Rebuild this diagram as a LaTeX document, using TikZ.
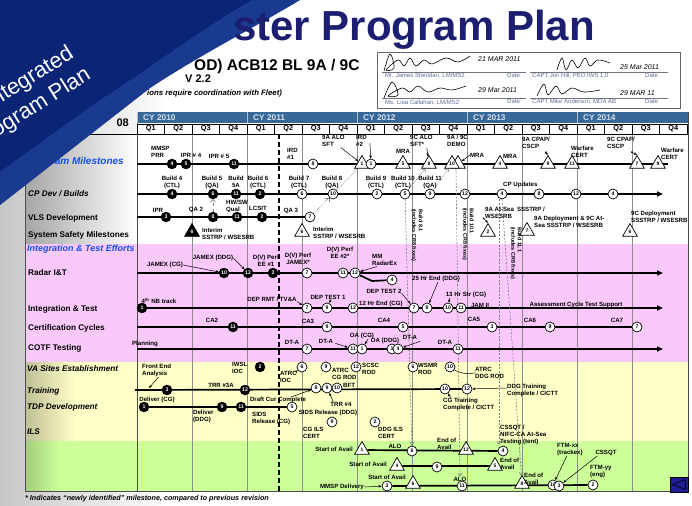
\documentclass[tikz,border=0pt]{standalone}
\usepackage{fontspec}
\setmainfont{Liberation Sans}
\usetikzlibrary{arrows.meta,shapes.geometric,calc}
\pgfdeclarelayer{back}
\pgfdeclarelayer{lines}
\pgfdeclarelayer{front}
\pgfsetlayers{back,lines,main,front}
\definecolor{navyT}{RGB}{28,30,112}
\definecolor{swblue}{RGB}{10,36,118}
\definecolor{swlight}{RGB}{45,85,175}
\definecolor{cyblue}{RGB}{56,104,152}
\definecolor{cytext}{RGB}{215,225,240}
\definecolor{pinkb}{RGB}{250,200,250}
\definecolor{yellb}{RGB}{255,255,200}
\definecolor{greenb}{RGB}{204,255,153}
\definecolor{gridg}{RGB}{140,140,140}
\definecolor{hdblue}{RGB}{20,80,235}
\definecolor{sigtext}{RGB}{90,110,150}
\definecolor{dashg}{RGB}{125,125,125}
\definecolor{btnblue}{RGB}{30,30,150}
\begin{document}
\begin{tikzpicture}[x=1pt,y=-1pt,
  mb/.style={circle,fill=black,draw=black,text=white,minimum size=10pt,inner sep=0pt,font=\fontsize{5.2}{5.2}\selectfont\bfseries},
  mw/.style={circle,fill=white,draw=black,line width=0.7pt,minimum size=10pt,inner sep=0pt,font=\fontsize{5.2}{5.2}\selectfont\bfseries},
  tri/.style={regular polygon,regular polygon sides=3,draw=black,fill=white,line width=0.7pt,minimum size=17pt,inner sep=0pt,font=\fontsize{5}{5}\selectfont\bfseries},
  trib/.style={tri,fill=black,text=white},
  lb/.style={inner sep=0pt,align=center,font=\fontsize{6.1}{6.9}\selectfont\bfseries},
  lbl/.style={lb,align=left,anchor=north west},
  rowl/.style={anchor=west,inner sep=0pt,font=\fontsize{8.2}{9}\selectfont\bfseries},
  rowi/.style={anchor=west,inner sep=0pt,font=\fontsize{8.2}{9}\selectfont\bfseries\itshape},
  ml/.style={line width=1.7pt},
  mla/.style={line width=1.7pt,-{Triangle[length=6pt,width=5pt]}},
  arw/.style={-{Stealth[length=3.2pt,width=2.6pt]},line width=0.5pt},
  dotar/.style={densely dotted,gray,line width=0.6pt,-{Straight Barb[length=2.5pt]}},
  dsh/.style={dash pattern=on 2pt off 1.5pt,dashg,line width=0.6pt,-{Straight Barb[length=3pt,width=4pt]}},
  gridl/.style={gridg,line width=0.8pt},
  rotl/.style={rotate=-90,anchor=north west,inner sep=0pt,align=left,font=\fontsize{5.4}{6.6}\selectfont\bfseries},
  sigt/.style={anchor=base west,inner sep=0pt,text=sigtext,font=\fontsize{6}{6}\selectfont},
  hand/.style={anchor=base west,inner sep=0pt,font=\fontsize{7}{7}\selectfont\itshape}
]
\useasboundingbox (0,0) rectangle (692,505);

\begin{pgfonlayer}{back}
\fill[white] (0,0) rectangle (692,505);
\shade[left color=black!22, right color=white] (0,0) rectangle (170,505);
\shade[left color=black!35, right color=white] (25,134) rectangle (137,244);
\fill[white] (137,134) rectangle (688,244);
\fill[pinkb] (25,244) rectangle (688,362);
\fill[yellb] (25,362) rectangle (688,441);
\shade[left color=black!25!yellb, right color=yellb] (25,362) rectangle (75,441);
\fill[greenb] (25,441) rectangle (688,491);
\shade[left color=black!20!greenb, right color=greenb] (25,441) rectangle (60,491);
\fill[cyblue] (137,112) rectangle (688,123.5);
\foreach \gx in {192,247,302,357,412,467,522,577,632} \draw[gridl] (\gx,134) -- (\gx,491);
\draw[black!70, line width=0.9pt] (137,112) -- (137,491);
\draw[black!70, line width=0.9pt] (25,112) -- (25,491) -- (688,491) -- (688,112);
\draw[black, line width=0.8pt] (25,134) -- (688,134);
\draw[line width=1.6pt, dash pattern=on 5pt off 3pt] (279,134) -- (279,492);
\end{pgfonlayer}

% calendar header
\foreach \i/\yr in {0/2010,1/2011,2/2012,3/2013,4/2014}{
  \node[anchor=west,inner sep=0pt,text=cytext,font=\fontsize{8.3}{8.3}\selectfont\bfseries] (cy\yr) at ({137+110*\i+6},118) {CY \yr};
  \draw[white!60!cyblue,line width=0.8pt] ({137+110*\i},112) -- ({137+110*\i},123.5);
}
\foreach \k in {0,...,19}{
  \pgfmathtruncatemacro\qq{mod(\k,4)+1}
  \node[draw=black,fill=white,line width=0.6pt,minimum width=27.5pt,minimum height=10pt,inner sep=0pt,font=\fontsize{7.3}{7.3}\selectfont\bfseries] (q\k) at ({137+27.5*\k+13.75},129) {Q\qq};
}

% row labels
\node[anchor=west,inner sep=0pt,text=hdblue,font=\fontsize{10}{10}\selectfont\bfseries\itshape] (lPM) at (28,162) {Program Milestones};
\node[rowi] (lCP) at (28,194) {CP Dev / Builds};
\node[rowl] (lVLS) at (28,218) {VLS Development};
\node[rowl] (lSS) at (28,235) {System Safety Milestones};
\node[anchor=west,inner sep=0pt,text=hdblue,font=\fontsize{9}{9}\selectfont\bfseries\itshape] (lIT) at (27,249) {Integration \& Test Efforts};
\node[rowl] (lRad) at (28,273) {Radar I\&T};
\node[rowl] (lInt) at (28,309) {Integration \& Test};
\node[rowl] (lCC) at (28,328) {Certification Cycles};
\node[rowl] (lCOTF) at (28,348) {COTF Testing};
\node[rowi] (lVA) at (27,369) {VA Sites Establishment};
\node[rowi] (lTr) at (27,391) {Training};
\node[rowi] (lTDP) at (27,407) {TDP Development};
\node[rowi] (lILS) at (27,432) {ILS};

% ---------- Program Milestones
\coordinate (pmS) at (137,164); \coordinate (pmE) at (668,164);
\node[mb] (pm1) at (172,164) {4};
\node[mb] (pm2) at (186,164) {5};
\node[mb] (pm3) at (234,164) {11};
\node[mw] (pm4) at (313,164) {8};
\node[tri] (pm5) at (362,164) {1};
\node[mw] (pm6) at (371,164) {1};
\node[tri] (pm7) at (403,164) {5};
\node[tri] (pm8) at (429,164) {8};
\node[tri] (pm9b) at (458,164) {};
\node[tri] (pm9) at (452,164) {10};
\node[tri] (pm10) at (500,164) {4};
\node[tri] (pm11) at (548,164) {9};
\node[tri] (pm12) at (572,164) {11};
\node[tri] (pm13) at (637,164) {7};
\node[tri] (pm14) at (658,164) {9};
\node[lbl] (pm1l) at (151,146) {MMSP\\PRR};
\node[lb] (pm2l) at (191,155) {IPR \# 4};
\node[lb] (pm3l) at (219,156) {IPR \# 5};
\node[lbl] (pm4l) at (287,148) {IRD\\\#1};
\node[lbl] (pm5l) at (322,135) {9A ALO\\SFT};
\node[lbl] (pm6l) at (356,135) {IRD\\\#2};
\node[lb] (pm7l) at (403,151) {MRA};
\node[lbl] (pm8l) at (410,135) {9C ALO\\SFT*};
\node[lbl] (pm9l) at (447,135) {9A / 9C\\DEMO};
\node[lb] (pm9m) at (477,155) {MRA};
\node[lb] (pm10l) at (510,156) {MRA};
\node[lbl] (pm11l) at (522,137) {9A CPAP/\\CSCP};
\node[lbl] (pm12l) at (571,146) {Warfare\\CERT};
\node[lbl] (pm13l) at (607,137) {9C CPAP/\\CSCP};
\node[lbl] (pm14l) at (661,148) {Warfare\\CERT};

% ---------- CP Dev
\coordinate (cpS) at (137,194); \coordinate (cpE) at (663,194);
\node[mb] (cp1) at (172,194) {4};
\node[mb] (cp2) at (213,194) {6};
\node[mb] (cp3) at (236,194) {11};
\node[mb] (cp4) at (260,194) {2};
\node[mw] (cp5) at (302,194) {6};
\node[mw] (cp6) at (333,194) {10};
\node[mw] (cp7) at (377,194) {2};
\node[mw] (cp8) at (405,194) {5};
\node[mw] (cp9) at (430,194) {9};
\node[mw] (cp10) at (465,194) {12};
\node[mw] (cp11) at (502,194) {4};
\node[mw] (cp12) at (539,194) {8};
\node[mw] (cp13) at (576,194) {12};
\node[mw] (cp14) at (613,194) {4};
\node[lb] (cp1l) at (172,182) {Build 4\\(CTL)};
\node[lb] (cp2l) at (212,182) {Build 5\\(QA)};
\node[lb] (cp3l) at (236,182) {Build\\5A};
\node[lb] (cp4l) at (258,182) {Build 6\\(CTL)};
\node[lb] (cp5l) at (299,182) {Build 7\\(CTL)};
\node[lb] (cp6l) at (332,182) {Build 8\\(QA)};
\node[lb] (cp7l) at (376,182) {Build 9\\(CTL)};
\node[lb] (cp8l) at (403,182) {Build 10\\(CTL)};
\node[lb] (cp9l) at (430,182) {Build 11\\(QA)};
\node[lb,anchor=west] (cp11l) at (503,185) {CP Updates};

% ---------- VLS
\coordinate (vlS) at (137,217);
\node[mb] (vl1) at (166,217) {3};
\node[mb] (vl2) at (213,217) {8};
\node[mb] (vl3) at (237,217) {11};
\node[mb] (vl4) at (262,217) {2};
\node[mw] (vl5) at (310,217) {7};
\node[lb] (vl1l) at (158,210) {IPR};
\node[lb] (vl2l) at (196,210) {QA 2};
\node[lbl] (vl3l) at (226,200) {HW/SW\\Qual};
\node[lb] (vl4l) at (258,208) {LCSIT};
\node[lb] (vl5l) at (291,211) {QA 3};

% ---------- System safety
\node[trib] (ss1) at (192,232) {6};
\node[tri] (ss2) at (302,232) {6};
\node[tri] (ss3) at (488,232) {2};
\node[tri] (ss4) at (527,231) {7};
\node[tri] (ss5) at (630,232) {6};
\node[lbl] (ss1l) at (202,228) {Interim\\SSTRP / WSESRB};
\node[lbl] (ss2l) at (313,227) {Interim\\SSTRP / WSESRB};
\node[lbl] (ss3l) at (485,207) {9A At-Sea\enspace SSSTRP /\\WSESRB};
\node[lbl] (ss4l) at (534,216) {9A Deployment \& 9C At-\\Sea SSSTRP / WSESRB};
\node[lbl] (ss5l) at (631,211) {9C Deployment\\SSSTRP / WSESRB};

% ---------- rotated build notes
\node[rotl] (rb1) at (423,209) {Build 8.1\\(includes CR8 fixes)};
\node[rotl] (rb2) at (474,208) {Build 10.1\\(includes CR8 fixes)};
\node[rotl] (rb3) at (522,227) {Build 11.1\\(includes CR8 fixes)};

% ---------- Radar I&T
\coordinate (rdS) at (137,273); \coordinate (rdE) at (663,273);
\node[mb] (rd1) at (224,273) {10};
\node[mb] (rd2) at (248,273) {12};
\node[mb] (rd3) at (273,273) {3};
\node[mw] (rd4) at (307,273) {7};
\node[mw] (rd5) at (343,273) {11};
\node[mw] (rd6) at (355,273) {12};
\node[mw] (rd7) at (392,280) {4};
\coordinate (rdk) at (372,281);
\node[lb] (rd1l) at (165,265) {JAMEX (CG)};
\node[lb] (rd2l) at (213,258) {JAMEX (DDG)};
\node[lb] (rd3l) at (266,261) {D(V) Perf\\EE \#1};
\node[lb] (rd4l) at (298,259) {D(V) Perf\\JAMEX*};
\node[lb] (rd5l) at (340,253) {D(V) Perf\\EE \#2*};
\node[lbl] (rd6l) at (372,254) {MM\\RadarEx};

% ---------- Integration & Test
\coordinate (itE) at (663,308);
\node[mb] (it1) at (142,308) {1};
\node[mw] (it2) at (307,308) {7};
\node[mw] (it3) at (327,308) {9};
\node[mw] (it4) at (353,308) {12};
\node[mw] (it5) at (414,308) {7};
\node[mw] (it6) at (427,308) {8};
\node[mw] (it7) at (448,308) {10};
\node[mw] (it8) at (461,308) {11};
\node[lb] (it1l) at (159,301) {4\textsuperscript{th} NB track};
\node[lb] (it2l) at (272,299) {DEP RMT / TV\&A};
\node[lb] (it3l) at (328,297) {DEP TEST 1};
\node[lb,anchor=west] (it4l) at (359,304) {12 Hr End (CG)};
\node[lb] (it5l) at (384,291) {DEP TEST 2};
\node[lb] (it6l) at (436,279) {25 Hr End (DDG)};
\node[lb] (it7l) at (466,295) {13 Hr Str (CG)};
\node[lb] (it9l) at (480,305) {JAM II};
\node[lb] (it10l) at (576,305) {Assessment Cycle Test Support};

% ---------- Certification cycles
\coordinate (ccS) at (137,327);
\node[mb] (cc1) at (233,327) {11};
\node[mw] (cc2) at (327,327) {9};
\node[mw] (cc3) at (403,327) {5};
\node[mw] (cc4) at (492,327) {3};
\node[mw] (cc5) at (550,327) {9};
\node[mw] (cc6) at (637,327) {7};
\node[lb] (cc1l) at (212,320) {CA2};
\node[lb] (cc2l) at (308,321) {CA3};
\node[lb] (cc3l) at (384,320) {CA4};
\node[lb] (cc4l) at (474,319) {CA5};
\node[lb] (cc5l) at (530,320) {CA6};
\node[lb] (cc6l) at (617,320) {CA7};

% ---------- COTF
\coordinate (coS) at (137,349); \coordinate (coE) at (663,349);
\node[mw] (co1) at (307,349) {7};
\node[mw] (co2) at (353,349) {11};
\node[mw] (co3) at (362,349) {1};
\node[mw] (co4) at (392,349) {1};
\node[mw] (co5) at (398,349) {4};
\node[mw] (co6) at (458,349) {11};
\node[lb] (co0l) at (145,344) {Planning};
\node[lb] (co1l) at (292,342) {DT-A};
\node[lb] (co2l) at (326,341) {DT-A};
\node[lb] (co3l) at (362,336) {OA (CG)};
\node[lb] (co4l) at (385,341) {OA (DDG)};
\node[lb] (co5l) at (410,337) {DT-A};
\node[lb] (co6l) at (445,342) {DT-A};

% ---------- VA sites
\node[mb] (va1) at (260,367) {2};
\node[mw] (va2) at (302,367) {6};
\node[mw] (va3) at (326,367) {9};
\node[mw] (va4) at (356,367) {12};
\node[mw] (va5) at (413,367) {6};
\node[mw] (va6) at (450,367) {10};
\node[lbl] (va0l) at (142,364) {Front End\\Analysis};
\node[lbl] (va1l) at (232,362) {IWSL\\IOC};
\node[lbl] (va2l) at (280,371) {ATRC\\IOC};
\node[lbl] (va3l) at (332,368) {ATRC\\CG ROD};
\node[lbl] (va4l) at (362,363) {SCSC\\ROD};
\node[lbl] (va5l) at (418,363) {WSMR\\ROD};
\node[lbl] (va6l) at (475,367) {ATRC\\DDG ROD};

% ---------- Training
\coordinate (trS) at (135,390); \coordinate (trA) at (149,388);
\node[mb] (tr1) at (167,390) {3};
\node[mb] (tr2) at (245,390) {12};
\node[mw] (tr3) at (316,388) {8};
\node[mw] (tr4) at (327,388) {9};
\node[mw] (tr5) at (337,388) {10};
\node[mw] (tr6) at (445,389) {10};
\node[mw] (tr7) at (467,389) {12};
\node[lb] (tr2l) at (221,385) {TRR \#3A};
\node[lb,anchor=west] (tr5l) at (343,385.5) {BFT};
\node[lb] (tr3l) at (278,400) {Draft Cur Complete};
\node[lb] (tr4l) at (341,404) {TRR \#4};
\node[lbl] (tr6l) at (443,398) {CG Training\\Complete / CICTT};
\node[lbl] (tr7l) at (507,384) {DDG Training\\Complete / CICTT};

% ---------- TDP
\node[mb] (td1) at (144,407) {1};
\node[mb] (td2) at (222,407) {9};
\node[mb] (td3) at (241,407) {11};
\node[mw] (td4) at (292,407) {5};
\node[lb] (td1l) at (157,400) {Deliver (CG)};
\node[lbl] (td2l) at (193,410) {Deliver\\(DDG)};
\node[lbl] (td3l) at (252,412) {SIDS\\Release (CG)};
\node[lb] (td4l) at (328,413) {SIDS Release (DDG)};

% ---------- ILS
\node[mw] (il1) at (332,422) {9};
\node[mw] (il2) at (375,422) {2};
\node[lbl] (il1l) at (303,427) {CG ILS\\CERT};
\node[lbl] (il2l) at (378,427) {DDG ILS\\CERT};
\node[lbl] (il3l) at (500,425) {CSSQT /\\NIFC-CA At-Sea\\Testing (tent)};

% ---------- Green rows
\node[tri] (g11) at (362,450) {1};
\node[mw] (g12) at (412,451) {6};
\node[tri] (g13) at (466,450) {12};
\node[mw] (g14) at (503,451) {4};
\node[lb,anchor=east] (g11l) at (353,449) {Start of Avail};
\node[lb] (g12l) at (395,446) {ALO};
\node[lbl] (g13l) at (437,438) {End of\\Avail};
\node[tri] (g21) at (397,466) {4};
\node[mw] (g22) at (437,467) {9};
\node[tri] (g23) at (495,466) {5};
\node[lb,anchor=east] (g21l) at (387,464) {Start of Avail};
\node[lbl] (g23l) at (500,458) {End of\\Avail};
\node[mw] (g31) at (387,486) {3};
\node[tri] (g32) at (413,484) {6};
\node[mw] (g33) at (462,486) {11};
\node[tri] (g34) at (522,484) {8};
\node[mw] (g35) at (553,485) {10};
\node[mw] (g36) at (559,486) {3};
\node[mw] (g37) at (593,485) {2};
\node[lb] (g31a) at (387,477) {Start of Avail};
\node[lb,anchor=east] (g31l) at (364,487) {MMSP Delivery};
\node[lb] (g33l) at (460,479) {ALO};
\node[lbl] (g34l) at (524,473) {End of\\Avail};
\node[lbl] (g35l) at (557,443) {FTM-xx\\(trackex)};
\node[lb] (g36l) at (606,453) {CSSQT};
\node[lbl] (g37l) at (590,465) {FTM-yy\\(eng)};

% ---------- connectors
\begin{pgfonlayer}{lines}
\draw[ml] (pmS) -- (pmE);
\draw[mla] (cpS) -- (cpE);
\draw[ml] (vlS) -- (vl5);
\draw[mla] (rdS) -- (rdE);
\draw[ml] (rd6) -- (rdk) -- (rd7);
\draw[mla] (it1) -- (itE);
\draw[ml] (ccS) -- (cc6);
\draw[mla] (coS) -- (coE);
\draw[ml] (trS) -- (tr7);
\draw[ml] (td1) -- (td4);
\draw[ml] (g11) -- (g14);
\draw[ml] (g21) -- (g23);
\draw[ml] (g31) -- (g37);
% label arrows
\draw[arw] ($(pm5l.south east)+(-4,1)$) -- (pm5);
\draw[arw] ($(pm6l.north east)+(3,8)$) -- (pm6);
\draw[arw] ($(pm8l.south east)+(-6,1)$) -- (pm8);
\draw[arw] (pm9m.west) -- (pm9b);
\draw[arw,{Circle[length=1.8pt]}-{Stealth[length=3.2pt,width=2.6pt]}] ($(pm11l.south east)+(-5,3)$) -- (pm11.north);
\draw[arw,{Circle[length=1.8pt]}-{Stealth[length=3.2pt,width=2.6pt]}] ($(pm13l.south east)+(-4,3)$) -- (pm13.north);
\draw[arw,{Circle[length=1.8pt]}-{Stealth[length=3.2pt,width=2.6pt]}] ($(ss3l.south west)+(-2,-1)$) -- (ss3.north);
\draw[arw] (rd1l.east) -- (rd1);
\draw[arw] (rd2l.east) -- (rd2);
\draw[arw] ($(rd6l.south west)+(5,1)$) -- (rd6);
\draw[arw] (it2l.south east) -- (it2);
\draw[arw] ($(it3l.south)+(3,0)$) -- (it3);
\draw[arw] (it5l.south east) -- (it5);
\draw[arw] ($(it6l.south)+(2,0)$) -- (it6);
\draw[arw] ($(it7l.south west)+(4,0)$) -- (it7);
\draw[arw] ($(co2l.south east)+(2,0)$) -- (co2);
\draw[arw] ($(co3l.south)+(6,0)$) -- (co3);
\draw[arw] ($(co5l.south east)+(3,2)$) -- (co5);
\draw[arw] ($(va0l.south)+(2,0)$) -- (trA);
\draw[arw] (va2l.north east) -- (va2);
\draw[line width=0.5pt] (va6) to[bend right=20] (va6l.west);
\draw[arw] ($(tr3l.north east)+(-15,0)$) -- (tr3);
\draw[arw] ($(tr4l.north west)+(3,0)$) -- (tr4);
\draw[arw] ($(tr6l.north west)+(8,0)$) -- (tr6);
\draw[arw] ($(tr7l.north west)+(0,4)$) -- (tr7);
\draw[arw] (g31l.east) -- (g31);
\draw[arw] ($(g35l.south)+(-3,0)$) -- (g35);
\draw[arw] ($(g36l.south west)+(2,0)$) -- (g36);
% dotted / dashed dependencies
\draw[dotar] (vl5) -- (cp6);
\draw[dotar] (cp6) -- (pm5);
\draw[dotar] (cp8) -- (pm8);
\draw[dotar] (cp9) -- (pm9);
\draw[dotar,dashed] (vl2) -- (cp2);
\draw[dsh] (cp8) -- (g12);
\draw[dsh] ($(pm9.south)+(4,0)$) -- (g33l.north);
\draw[dsh] ($(cp11.south)+(-3,0)$) -- ($(g14.north)+(-4,-1)$);
\draw[dsh] (cp11.south) -- (g34);
\end{pgfonlayer}

% ---------- signature block
\draw[black!60,fill=white,line width=0.6pt] (377,52) rectangle (680,108);
\draw[black!55,line width=0.4pt] (382,72) -- (526,72);
\draw[black!55,line width=0.4pt] (530,72) -- (668,72);
\draw[black!55,line width=0.4pt] (382,98) -- (526,98);
\draw[black!55,line width=0.4pt] (530,98) -- (668,98);
\draw[line width=0.6pt] plot[smooth,tension=0.6] coordinates {(384,71) (390,54) (394,68) (386,70) (398,60) (404,66) (410,58) (416,66) (424,60) (432,64) (446,58) (458,62) (470,56)};
\draw[line width=0.6pt] plot[smooth,tension=0.6] coordinates {(557,70) (562,58) (566,70) (572,60) (578,68) (585,58) (590,66) (598,60) (610,63)};
\draw[line width=0.6pt] plot[smooth,tension=0.6] coordinates {(384,98) (392,82) (398,95) (388,96) (402,88) (410,92) (418,86) (428,92) (440,88) (452,90) (466,86)};
\draw[line width=0.6pt] plot[smooth,tension=0.6] coordinates {(537,96) (544,84) (548,95) (556,86) (562,94) (572,88) (584,92) (600,90)};
\node[hand] (d1) at (478,62) {21 MAR 2011};
\node[hand] (d2) at (620,70) {25 Mar 2011};
\node[hand] (d3) at (478,93) {29 Mar 2011};
\node[hand] (d4) at (620,96) {29 MAR 11};
\node[sigt] (s1) at (385,78) {Mr. James Sheridan, LM/MS2};
\node[sigt] (s2) at (507,78) {Date};
\node[sigt] (s3) at (532,78) {CAPT Jon Hill, PEO IWS 1.0};
\node[sigt] (s4) at (645,78) {Date};
\node[sigt] (s5) at (385,105) {Ms. Lisa Callahan, LM/MS2};
\node[sigt] (s6) at (507,104) {Date};
\node[sigt] (s7) at (532,104) {CAPT Mike Anderson, MDA AB};
\node[sigt] (s8) at (645,104) {Date};

% back button
\node[draw=black,fill=btnblue,minimum width=18pt,minimum height=15pt,inner sep=0pt] (btn) at (679,484.5) {};
\draw[black,line width=0.6pt] ($(btn.east)+(-3,-5)$) -- ($(btn.west)+(3,0)$) -- ($(btn.east)+(-3,5)$) -- cycle;

% footnote
\node[anchor=base west,inner sep=0pt,font=\fontsize{7.2}{7.2}\selectfont\bfseries\itshape] (fn) at (25,500) {* Indicates “newly identified” milestone, compared to previous revision};

% ---------- swoosh and header
\begin{pgfonlayer}{front}
\fill[swblue] (0,0) -- (300,0) .. controls (255,27) and (200,55) .. (150,88) -- (0,205) -- cycle;
\fill[swlight,opacity=0.45] (300,0) -- (252,0) .. controls (200,30) and (140,75) .. (100,100) -- (0,172) -- (0,205) -- (150,88) .. controls (200,55) and (255,27) .. (300,0) -- cycle;
\node[anchor=base east,rotate=32,inner sep=0pt,text=white,font=\fontsize{22}{22}\selectfont] (ipp1) at (75,57) {Integrated};
\node[anchor=base east,rotate=32,inner sep=0pt,text=white,font=\fontsize{22}{22}\selectfont] (ipp2) at (92,78) {Program Plan};
\node[anchor=base west,inner sep=0pt,text=navyT,font=\fontsize{42}{42}\selectfont\bfseries] (title) at (233,41) {ster Program Plan};
\node[anchor=base west,inner sep=0pt,font=\fontsize{15.5}{16}\selectfont\bfseries] (sub1) at (194,71) {OD) ACB12 BL 9A / 9C};
\node[anchor=base west,inner sep=0pt,font=\fontsize{11}{11}\selectfont\bfseries] (sub2) at (185,83) {V 2.2};
\node[anchor=base west,inner sep=0pt,font=\fontsize{7.8}{8}\selectfont\bfseries\itshape] (sub3) at (147,96) {ions require coordination with Fleet)};
\node[anchor=base east,inner sep=0pt,font=\fontsize{11}{11}\selectfont\bfseries] (yr08) at (129,127) {08};
\end{pgfonlayer}
\end{tikzpicture}
\end{document}
